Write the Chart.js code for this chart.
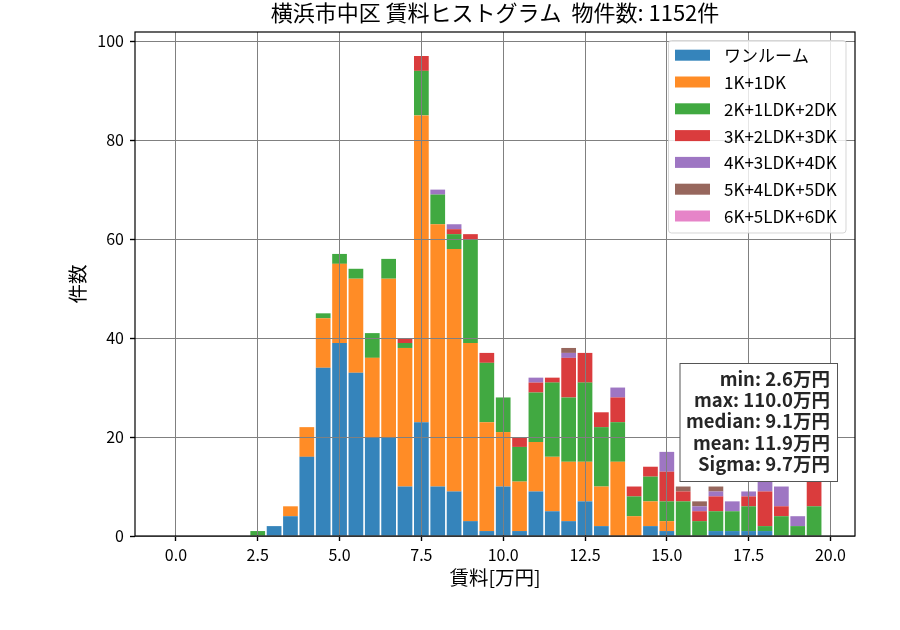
<!DOCTYPE html>
<html><head><meta charset="utf-8">
<script src="https://cdn.jsdelivr.net/npm/chart.js@4.4.1/dist/chart.umd.min.js"></script>
<style>html,body{margin:0;padding:0;background:#fff}canvas{display:block}</style>
</head><body>
<canvas id="c" width="900" height="630"></canvas>
<script>
const chartTitle = '横浜市中区 賃料ヒストグラム  物件数: 1152件';
const xLabel = '賃料[万円]';
const yLabel = '件数';
const binCenters = [0,0.5,1.0,1.5,2.0,2.5,3.0,3.5,4.0,4.5,5.0,5.5,6.0,6.5,7.0,7.5,8.0,8.5,9.0,9.5,
                    10.0,10.5,11.0,11.5,12.0,12.5,13.0,13.5,14.0,14.5,15.0,15.5,16.0,16.5,17.0,17.5,18.0,18.5,19.0,19.5];
const xTicks = [0,2.5,5,7.5,10,12.5,15,17.5,20];
const yTicks = [0,20,40,60,80,100];
const seriesNames = ['ワンルーム','1K+1DK','2K+1LDK+2DK','3K+2LDK+3DK','4K+3LDK+4DK','5K+4LDK+5DK','6K+5LDK+6DK'];
const oneRoom = [0,0,0,0,0, 0,2,4,16,34, 39,33,20,20,10, 23,10,9,3,1, 10,1,9,5,3, 7,2,0,0,2, 1,0,0,1,1, 1,1,0,0,0];
const k1 =      [0,0,0,0,0, 0,0,2,6,10, 16,19,16,32,28, 62,53,49,36,22, 11,10,10,11,12, 8,8,15,4,5, 2,0,0,0,0, 0,0,0,0,0];
const k2 =      [0,0,0,0,0, 1,0,0,0,1, 2,2,5,4,1, 9,6,3,21,12, 7,7,10,15,13, 16,12,8,4,5, 4,7,3,4,4, 5,1,4,2,6];
const k3 =      [0,0,0,0,0, 0,0,0,0,0, 0,0,0,0,1, 3,0,1,1,2, 0,2,2,1,8, 6,3,5,2,2, 6,2,2,3,0, 2,7,2,0,8];
const k4 =      [0,0,0,0,0, 0,0,0,0,0, 0,0,0,0,0, 0,1,1,0,0, 0,0,1,0,1, 0,0,2,0,0, 4,0,1,1,2, 1,3,4,2,0];
const k5 =      [0,0,0,0,0, 0,0,0,0,0, 0,0,0,0,0, 0,0,0,0,0, 0,0,0,0,1, 0,0,0,0,0, 0,1,1,1,0, 0,0,0,0,0];
const k6 =      [0,0,0,0,0, 0,0,0,0,0, 0,0,0,0,0, 0,0,0,0,0, 0,0,0,0,0, 0,0,0,0,0, 0,0,0,0,0, 0,0,0,0,0];
const statLines = ['min: 2.6万円','max: 110.0万円','median: 9.1万円','mean: 11.9万円','Sigma: 9.7万円'];
const colors = ['rgba(31,119,180,0.9)','rgba(255,127,14,0.9)','rgba(44,160,44,0.9)','rgba(214,39,40,0.9)',
                'rgba(148,103,189,0.9)','rgba(140,86,75,0.9)','rgba(227,119,194,0.9)'];
const allSeries = [oneRoom,k1,k2,k3,k4,k5,k6];
const FONT = "'Noto Sans CJK JP','Noto Sans',sans-serif";

const datasets = allSeries.map((s,i)=>({
  label: seriesNames[i],
  data: binCenters.map((x,j)=>({x:x,y:s[j]})),
  backgroundColor: colors[i],
  borderWidth: 0,
  categoryPercentage: 1.0,
  barPercentage: 0.9,
  inflateAmount: 0
}));

function rr(ctx,x,y,w,h,r){
  ctx.beginPath();
  ctx.moveTo(x+r,y);ctx.lineTo(x+w-r,y);ctx.quadraticCurveTo(x+w,y,x+w,y+r);
  ctx.lineTo(x+w,y+h-r);ctx.quadraticCurveTo(x+w,y+h,x+w-r,y+h);
  ctx.lineTo(x+r,y+h);ctx.quadraticCurveTo(x,y+h,x,y+h-r);
  ctx.lineTo(x,y+r);ctx.quadraticCurveTo(x,y,x+r,y);ctx.closePath();
}

const overlay = {
  id:'overlay',
  afterDatasetsDraw(chart){
    const ctx = chart.ctx, a = chart.chartArea;
    chart.scales.x.drawGrid(a);
    chart.scales.y.drawGrid(a);
    ctx.save();
    ctx.strokeStyle = '#000'; ctx.lineWidth = 1.2;
    ctx.strokeRect(a.left, a.top, a.right-a.left, a.bottom-a.top);
    // legend
    const lx = 668.5, ly = 40.5, lw = 177.5, lh = 192.5;
    rr(ctx,lx,ly,lw,lh,3);
    ctx.fillStyle = 'rgba(255,255,255,0.8)'; ctx.fill();
    ctx.strokeStyle = 'rgba(204,204,204,0.8)'; ctx.lineWidth = 1; ctx.stroke();
    ctx.font = '17px ' + FONT;
    ctx.textBaseline = 'middle'; ctx.textAlign = 'left';
    seriesNames.forEach((n,i)=>{
      const cy = 55.2 + i*26.8;
      ctx.fillStyle = colors[i];
      ctx.fillRect(675, cy-5.5, 35, 11);
      ctx.fillStyle = '#000';
      ctx.fillText(n, 724, cy+0.5);
    });
    // stats box
    ctx.fillStyle = '#fff';
    ctx.fillRect(680, 363.5, 157.5, 118);
    ctx.strokeStyle = '#555'; ctx.lineWidth = 1;
    ctx.strokeRect(680, 363.5, 157.5, 118);
    ctx.font = 'bold 18.5px ' + FONT;
    ctx.fillStyle = '#262626'; ctx.textAlign = 'right';
    statLines.forEach((t,i)=>{ ctx.fillText(t, 830, 378.5 + i*21.4); });
    ctx.restore();
  },
  afterDraw(chart){
    const ctx = chart.ctx, a = chart.chartArea;
    ctx.save();
    ctx.font = '22px ' + FONT;
    ctx.fillStyle = '#000'; ctx.textAlign = 'center'; ctx.textBaseline = 'middle';
    ctx.fillText(chartTitle, (a.left+a.right)/2, 13);
    ctx.restore();
  }
};

new Chart(document.getElementById('c'), {
  type: 'bar',
  data: { datasets },
  options: {
    responsive: false,
    animation: false,
    devicePixelRatio: 1,
    layout: { padding: { top: 32, right: 45, left: 0, bottom: 0 } },
    plugins: { legend: { display: false }, tooltip: { enabled: false }, title: { display: false } },
    scales: {
      x: {
        type: 'linear', stacked: true, min: -1.25, max: 20.75, offset: false,
        afterBuildTicks: s => { s.ticks = xTicks.map(v=>({value:v})); },
        afterFit: s => { s.height = 94; },
        ticks: { callback: v => Number(v).toFixed(1), font: { size: 16, family: FONT }, color: '#000', padding: 4, maxRotation: 0, autoSkip: false },
        grid: { offset: false, color: '#808080', lineWidth: 1, tickLength: 5, tickColor: '#000', tickWidth: 1.2 },
        border: { display: false },
        title: { display: true, text: xLabel, font: { size: 19.5, family: FONT }, color: '#000', padding: { top: 0, bottom: 41 } }
      },
      y: {
        stacked: true, min: 0, max: 101.85,
        afterBuildTicks: s => { s.ticks = yTicks.map(v=>({value:v})); },
        afterFit: s => { s.width = 135; },
        ticks: { font: { size: 16, family: FONT }, color: '#000', padding: 6 },
        grid: { offset: false, color: '#808080', lineWidth: 1, tickLength: 5, tickColor: '#000', tickWidth: 1.2 },
        border: { display: false },
        title: { display: true, text: yLabel, font: { size: 19.5, family: FONT }, color: '#000', padding: { top: 66, bottom: 0 } }
      }
    }
  },
  plugins: [overlay]
});
</script>
</body></html>
